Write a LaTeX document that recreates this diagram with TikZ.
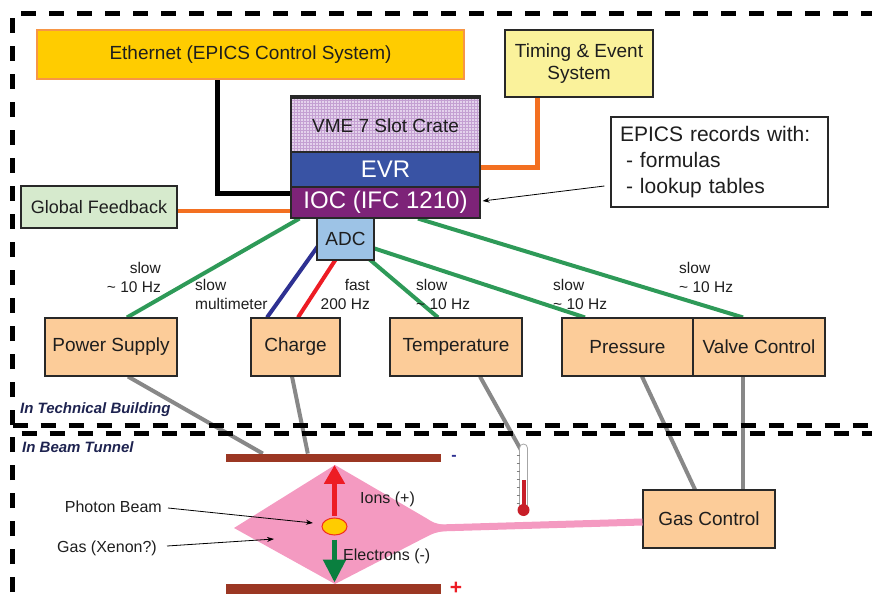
\documentclass[tikz,border=0pt]{standalone}
\usepackage{fontspec}
\setmainfont{Liberation Sans}
\usetikzlibrary{arrows.meta,calc,patterns,shapes.geometric}
\pgfdeclarelayer{bg}
\pgfsetlayers{bg,main}

\newcommand\setfs[2]{\fontsize{#1}{#2}\selectfont}

\definecolor{txt}{RGB}{30,30,30}
\definecolor{boxline}{RGB}{40,40,40}
\definecolor{peachfill}{RGB}{252,204,153}
\definecolor{gold}{RGB}{255,204,0}
\definecolor{goldline}{RGB}{247,150,70}
\definecolor{timingfill}{RGB}{250,242,155}
\definecolor{fbgreen}{RGB}{214,234,205}
\definecolor{lav}{RGB}{228,210,236}
\definecolor{lavgrid}{RGB}{196,160,210}
\definecolor{evrblue}{RGB}{57,83,164}
\definecolor{iocpurple}{RGB}{125,35,120}
\definecolor{adcblue}{RGB}{157,195,230}
\definecolor{orangeline}{RGB}{243,112,33}
\definecolor{sigreen}{RGB}{46,154,88}
\definecolor{sigblue}{RGB}{46,49,146}
\definecolor{sigred}{RGB}{237,28,36}
\definecolor{grayline}{RGB}{136,136,136}
\definecolor{pinkgas}{RGB}{244,154,193}
\definecolor{plate}{RGB}{155,55,35}
\definecolor{elecgreen}{RGB}{10,127,63}
\definecolor{zonetext}{RGB}{30,35,80}
\definecolor{thermred}{RGB}{200,30,40}

\begin{document}
\begin{tikzpicture}[x=1pt,y=-1pt,
  box/.style={draw=boxline, line width=1.1pt, inner sep=0pt, align=center, text=txt, font=\setfs{19}{22}},
  peach/.style={box, fill=peachfill, minimum width=132pt, minimum height=58pt},
  wire/.style={line width=4pt},
  sig/.style={font=\setfs{15.5}{19}, text=txt, inner sep=0pt},
  note/.style={font=\setfs{16}{19}, text=txt, inner sep=0pt},
  pointer/.style={line width=0.8pt, -{Stealth[length=7pt,width=5pt]}},
  zone/.style={font=\setfs{15}{18}\bfseries\itshape, text=zonetext, inner sep=0pt, anchor=west},
  framedash/.style={line width=5pt, dash pattern=on 15pt off 13pt},
]
\useasboundingbox (0,0) rectangle (872,601);

% zone frames
\draw[framedash] (12.5,425) -- (12.5,13.5) -- (890,13.5);
\draw[framedash] (12.5,425) -- (890,425);
\draw[framedash] (12.5,620) -- (12.5,433) -- (890,433);
\node[zone] (zonetech) at (20,410) {In Technical Building};
\node[zone] (zonetunnel) at (22,447) {In Beam Tunnel};

% top level systems
\node[box, fill=gold, draw=goldline, minimum width=427pt, minimum height=49pt] (eth) at (250.5,54.5) {Ethernet (EPICS Control System)};
\node[box, fill=timingfill, minimum width=148pt, minimum height=67pt] (tes) at (579,63.5) {Timing \& Event\\System};

% VME crate
\fill[lav] (291,96) rectangle (480,152);
\fill[pattern=grid, pattern color=lavgrid] (291,96) rectangle (480,152);
\node[box, minimum width=189pt, minimum height=56pt, font=\setfs{19}{22}] (vme) at (385.5,126) {VME 7 Slot Crate};
\node[box, fill=evrblue, text=white, minimum width=189pt, minimum height=35pt, font=\setfs{24}{28}] (evr) at (385.5,169.5) {EVR};
\node[box, fill=iocpurple, text=white, minimum width=189pt, minimum height=31pt, font=\setfs{24}{28}] (ioc) at (385.5,202.5) {IOC (IFC 1210)};
\node[box, fill=adcblue, minimum width=57pt, minimum height=42pt] (adc) at (345.5,239) {ADC};
\draw[boxline, line width=1.1pt] (291,96) rectangle (480,152);

\node[box, fill=fbgreen, minimum width=156pt, minimum height=42pt, font=\setfs{18}{21}] (gfb) at (99,207) {Global Feedback};
\node[box, fill=white, minimum width=217pt, minimum height=90pt, text width=199pt, align=left, font=\setfs{21}{26}] (rec) at (719.5,162) {EPICS records with:\\\hspace*{6pt}- formulas\\\hspace*{6pt}- lookup tables};

% devices
\node[peach] (ps) at (111,347) {Power Supply};
\node[peach, minimum width=89pt] (charge) at (295.5,347) {Charge};
\node[peach] (temp) at (456,347) {Temperature};
\node[peach, minimum width=131pt] (pres) at (627.5,347) {Pressure};
\node[peach] (valve) at (759,347) {Valve Control};
\node[peach] (gc) at (709,519) {Gas Control};

% signal labels
\node[sig, anchor=east, align=right] (lps) at (161,277.5) {slow\\\textasciitilde\ 10 Hz};
\node[sig, anchor=west, align=left] (lmm) at (195,294) {slow\\multimeter};
\node[sig, anchor=east, align=right] (lfast) at (370,294) {fast\\200 Hz};
\node[sig, anchor=west, align=left] (ltemp) at (416,294) {slow\\\textasciitilde\ 10 Hz};
\node[sig, anchor=west, align=left] (lpres) at (553,294) {slow\\\textasciitilde\ 10 Hz};
\node[sig, anchor=west, align=left] (lvalve) at (679,277.5) {slow\\\textasciitilde\ 10 Hz};

% connectors
\begin{pgfonlayer}{bg}
  \draw[line width=5pt] ($(eth.south west)+(181,0)$) |- ($(ioc.west)+(0,-8.5)$);
  \draw[line width=5pt, orangeline] ($(tes.south)+(-42,0)$) |- ($(evr.east)+(0,-1.5)$);
  \draw[line width=4pt, orangeline] ($(gfb.east)+(0,4)$) -- ($(ioc.west)+(0,8.5)$);
  \draw[wire, sigreen] ($(ioc.south west)+(9,0)$) -- ($(ps.north)+(16,0)$);
  \draw[wire, sigreen] (adc.center) -- ($(temp.north)+(-18,0)$);
  \draw[wire, sigreen] (adc.center) -- ($(pres.north)+(-42.5,0)$);
  \draw[wire, sigreen] ($(ioc.south)+(32.5,0)$) -- ($(valve.north)+(-16,0)$);
  \draw[wire, sigblue] ($(adc.center)+(-22.5,0)$) -- ($(charge.north)+(-28.5,0)$);
  \draw[wire, sigred] ($(adc.center)+(3.5,0)$) -- ($(charge.north)+(2.5,0)$);
\end{pgfonlayer}

% beam tunnel: electrodes and gas cell
\node[fill=plate, minimum width=215pt, minimum height=8.5pt, inner sep=0pt] (topplate) at (333.5,458) {};
\node[fill=plate, minimum width=215pt, minimum height=9.5pt, inner sep=0pt] (botplate) at (333.5,589) {};
\node[text=sigblue, font=\setfs{16}{18}\bfseries, inner sep=0pt] (minus) at (454,458) {-};
\node[text=sigred, font=\setfs{21}{24}\bfseries, inner sep=0pt] (plus) at (456,588) {+};

\fill[pinkgas] (234,528) -- (335,465) -- (426,518) .. controls (434,523) .. (444,525) -- (444,531) .. controls (434,533) .. (426,537) -- (335,584) -- cycle;
\draw[pinkgas, line width=7pt] (438,528) -- ($(gc.west)+(0,3)$);

\node[ellipse, fill=gold, draw=sigred!80!orange, line width=1pt, minimum width=25pt, minimum height=17pt, inner sep=0pt] (beam) at (334.5,526.5) {};
\draw[sigred, line width=5pt, -{Triangle[length=19pt,width=20pt]}] ($(beam.north)+(0,-2)$) -- ($(topplate.south)+(1,2.5)$);
\draw[elecgreen, line width=5pt, -{Triangle[length=23pt,width=22pt]}] ($(beam.south)+(0,4)$) -- ($(botplate.north)+(1,-1.5)$);
\node[note, anchor=west] (ions) at (360,499) {Ions (+)};
\node[note, anchor=west] (elec) at (343,556) {Electrons (-)};

\node[note, anchor=east] (pbl) at (162,507) {Photon Beam};
\node[note, anchor=east] (gasl) at (157,548) {Gas (Xenon?)};
\coordinate (pbtip) at (313,523);
\coordinate (gastip) at (274,539);
\draw[pointer] ($(pbl.east)+(6,1)$) -- (pbtip);
\draw[pointer] ($(gasl.east)+(10,-2)$) -- (gastip);
\draw[pointer] ($(rec.west)+(-6,24)$) -- ($(ioc.east)+(2,-1.5)$);

% thermometer
\coordinate (thermtop) at (521,450);
\draw[fill=white, draw=gray!70, line width=0.8pt] (519.5,508) -- (519.5,448) arc[start angle=180, end angle=360, radius=4] -- (527.5,508);
\fill[thermred] (521.5,480) rectangle (525.5,508);
\fill[thermred] (523.5,510) circle (6);
\foreach \t in {455,463,471,479,487,495,503}
  \draw[gray, line width=0.6pt] (516.5,\t) -- (519.5,\t);

% cabling to the tunnel
\begin{pgfonlayer}{bg}
  \draw[wire, grayline] ($(ps.south)+(17,0)$) -- ($(topplate.north west)+(37,0)$);
  \draw[wire, grayline] ($(charge.south)+(-3.5,0)$) -- ($(topplate.north west)+(82,0)$);
  \draw[wire, grayline] ($(temp.south)+(24,0)$) -- (thermtop);
  \draw[wire, grayline] ($(pres.south)+(14.5,0)$) -- ($(gc.north)+(-14,0)$);
  \draw[wire, grayline] ($(valve.south)+(-16,0)$) -- ($(gc.north)+(34,0)$);
\end{pgfonlayer}
\end{tikzpicture}
\end{document}
